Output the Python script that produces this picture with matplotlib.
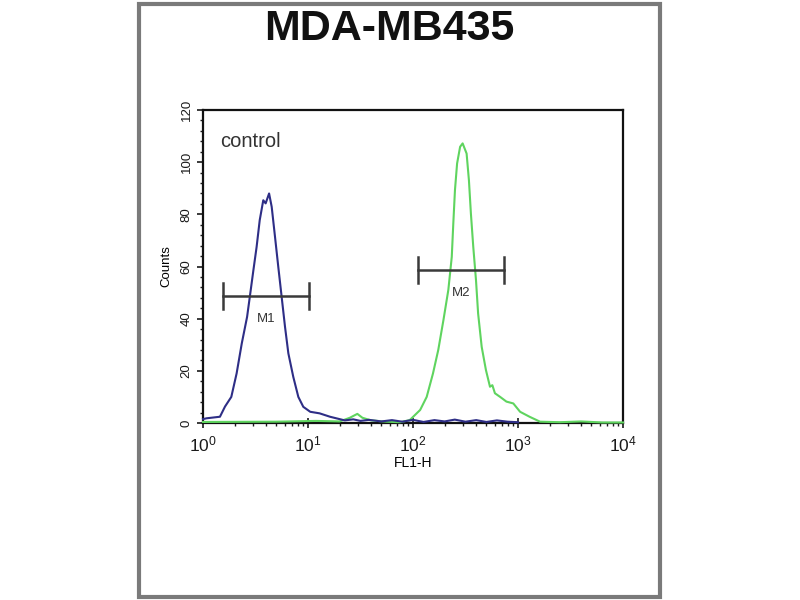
"""
plot.py — flow cytometry histogram, MDA-MB435 (control vs stained).
"""

import matplotlib
matplotlib.use("Agg")
import matplotlib.pyplot as plt
from matplotlib.patches import Rectangle
from matplotlib.ticker import LogLocator, MultipleLocator, FixedLocator

INK, FRAME = "#1a1a1a", "#7a7a7a"
BLUE, GREEN, BAR = "#2e2e86", "#5fd45f", "#3a3a3a"

plt.rcParams.update({
    "font.family": ["Liberation Sans", "DejaVu Sans"],
    "mathtext.fontset": "custom",
    "mathtext.rm": "Liberation Sans",
    "mathtext.it": "Liberation Sans",
    "mathtext.bf": "Liberation Sans:bold",
    "text.color": INK, "xtick.color": INK, "ytick.color": INK,
})

# control (blue) histogram, FL1-H vs counts
blue_fl1 = [1.0, 1.08, 1.45, 1.62, 1.86, 2.09, 2.34, 2.63, 2.82, 3.02, 3.24,
            3.47, 3.75, 3.95, 4.26, 4.51, 4.85, 5.21, 5.61, 6.04, 6.50, 7.24,
            8.09, 9.02, 10.5, 12.9, 16.2, 18.6, 22.4, 27.0, 31.6, 38.0, 50.0,
            63.0, 79.0, 100, 126, 160, 200, 250, 316, 400, 500, 630, 794, 1000]
blue_counts = [1.5, 1.8, 2.4, 6.3, 10, 19, 30.5, 40.7, 49.7, 58.6, 67.5,
               77.8, 85.4, 84.2, 88, 82.9, 71.4, 59.9, 48.4, 36.9, 26.7, 17.7,
               10, 6.2, 4.3, 3.7, 2.4, 1.8, 1.0, 1.4, 0.8, 1.2, 0.6,
               1.1, 0.5, 1.2, 0.4, 1.1, 0.6, 1.3, 0.5, 1.1, 0.4, 1.0, 0.5, 0.3]

# stained (green) histogram
green_fl1 = [1.0, 5.0, 12.0, 20.0, 25.0, 29.5, 33.0, 40.0, 56.0, 75.0, 93,
             117, 135, 155, 174, 195, 217, 234, 242, 251, 263, 281, 297, 324,
             341, 356, 375, 398, 417, 451, 495, 541, 570, 603, 676, 730, 776,
             902, 1047, 1288, 1622, 2512, 3981, 6310, 10000]
green_counts = [0.4, 0.5, 0.8, 0.6, 2.0, 3.5, 2.0, 1.0, 0.5, 0.3, 1.1,
                5, 10, 19, 28, 39.5, 51, 63.7, 76.5, 89.3, 99.5, 105.9, 107.2,
                103.3, 93, 80.3, 67.5, 54.8, 42, 29.2, 20.3, 13.9, 14.5, 11.4,
                10, 9.0, 8.2, 7.5, 4.3, 2.4, 0.5, 0.3, 0.6, 0.2, 0.2]

# gate markers: name, left, right, height, label height
gate_names = ["M1", "M2"]
gate_left = [1.55, 112]
gate_right = [10.2, 740]
gate_height = [48.6, 58.6]
gate_label_y = [40, 50]

fig = plt.figure(figsize=(8, 6), dpi=100)
fig.patches.append(Rectangle((139 / 800, 3 / 600), 521 / 800, 593 / 600,
                             transform=fig.transFigure, fill=False,
                             edgecolor=FRAME, linewidth=3))
fig.text(0.487, 0.951, "MDA-MB435", fontsize=31, fontweight="bold",
         ha="center", va="center", color="#111111")

ax = fig.add_axes([203 / 800, 1 - 423 / 600, 420 / 800, 313 / 600])
ax.plot(green_fl1, green_counts, color=GREEN, lw=1.5, clip_on=False, zorder=3)
ax.plot(blue_fl1, blue_counts, color=BLUE, lw=1.5, clip_on=False, zorder=4)

for name, lo, hi, h, ly in zip(gate_names, gate_left, gate_right,
                               gate_height, gate_label_y):
    ax.plot([lo, hi], [h, h], color=BAR, lw=1.8, zorder=5)
    ax.plot([lo, lo], [h - 5, h + 5], color=BAR, lw=1.8, zorder=5)
    ax.plot([hi, hi], [h - 5, h + 5], color=BAR, lw=1.8, zorder=5)
    ax.text((lo * hi) ** 0.5, ly, name, fontsize=9.5, color="#333333",
            ha="center", va="center", zorder=6)

ax.set_xscale("log")
ax.set_xlim(1, 10000)
ax.set_ylim(0, 120)
ax.xaxis.set_major_locator(FixedLocator([1, 10, 100, 1000, 10000]))
ax.xaxis.set_minor_locator(LogLocator(base=10, subs=range(2, 10)))
ax.set_xticklabels([r"$10^{0}$", r"$10^{1}$", r"$10^{2}$", r"$10^{3}$",
                    r"$10^{4}$"], fontsize=12.5)
ax.yaxis.set_major_locator(MultipleLocator(20))
ax.yaxis.set_minor_locator(MultipleLocator(4))
ax.tick_params(axis="y", labelsize=9.5, labelrotation=90, length=4, width=1.2)
for lbl in ax.get_yticklabels():
    lbl.set_va("center")
ax.tick_params(axis="x", which="major", direction="inout", length=7,
               width=1.2, pad=5)
ax.tick_params(which="minor", length=2.5, width=1)
for s in ax.spines.values():
    s.set_linewidth(1.6)
    s.set_color("#111111")

ax.set_xlabel("FL1-H", fontsize=10, labelpad=1)
ax.set_ylabel("Counts", fontsize=9.5, labelpad=6)
ax.text(0.04, 0.9, "control", transform=ax.transAxes, fontsize=14.5,
        color="#333333", ha="left", va="center")

fig.savefig("out.png", dpi=100)
